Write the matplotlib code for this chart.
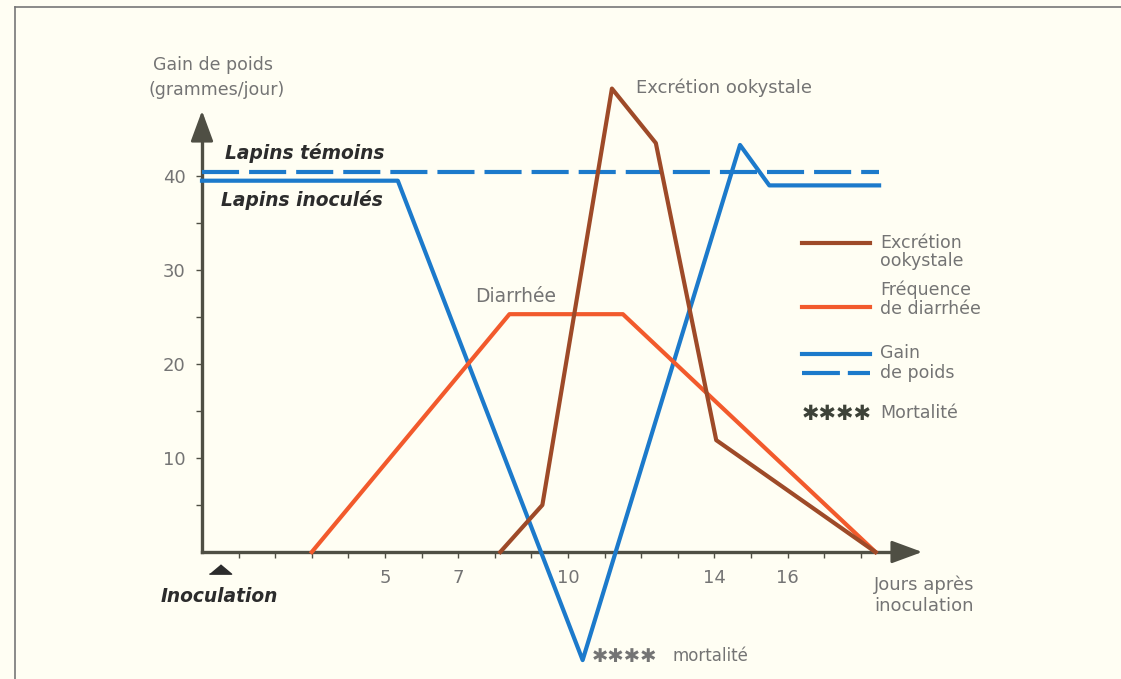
import numpy as np
import matplotlib
matplotlib.use("Agg")
import matplotlib.pyplot as plt
from matplotlib.lines import Line2D

# Data (days after inoculation, grams/day)
jours_inocules = [0, 5.35, 10.4, 14.7, 15.5, 18.5]
gain_inocules = [39.5, 39.5, -11.5, 43.3, 39.0, 39.0]

jours_temoins = [0, 18.5]
gain_temoins = [40.4, 40.4]

jours_excretion = [8.15, 9.3, 11.2, 12.4, 14.05, 18.4]
excretion = [0, 5.0, 49.3, 43.5, 11.9, 0]

jours_diarrhee = [3.0, 8.4, 11.5, 18.4]
diarrhee = [0, 25.3, 25.3, 0]

xticks = [5, 7, 10, 14, 16]
yticks = [10, 20, 30, 40]
jour_inoculation = 0.5

BLUE = "#1c7acb"
BROWN = "#9e4a28"
ORANGE = "#f25a2c"
AXIS = "#4f4f44"
GREY = "#747474"
DARK = "#2c2c2c"
BG = "#fffef3"

plt.rcParams["font.family"] = ["DejaVu Sans"]

# pixel -> data helpers (the axes covers the whole figure)
X0, SX = 202, 36.6
Y0, SY = 552, 9.4
def dx(px):
    return (px - X0) / SX
def dy(px):
    return (Y0 - px) / SY

fig = plt.figure(figsize=(11.21, 6.79), dpi=100, facecolor=BG)
ax = fig.add_axes([0, 0, 1, 1], facecolor=BG)
ax.set_xlim(dx(0), dx(1121))
ax.set_ylim(dy(679), dy(0))

# axes drawn through the origin
for side in ("top", "right"):
    ax.spines[side].set_visible(False)
ax.spines["bottom"].set_position(("data", 0))
ax.spines["left"].set_position(("data", 0))
ax.spines["bottom"].set_bounds(0, 19.2)
ax.spines["left"].set_bounds(0, 46.2)
for side in ("bottom", "left"):
    ax.spines[side].set_color(AXIS)
    ax.spines[side].set_linewidth(2.4)
    ax.spines[side].set_zorder(1)

head = "-|>,head_length=1.9,head_width=0.7"
ax.annotate("", xy=(dx(925), 0), xytext=(dx(890), 0),
            arrowprops=dict(arrowstyle=head, mutation_scale=10, color=AXIS, lw=2.0))
ax.annotate("", xy=(0, dy(108)), xytext=(0, dy(143)),
            arrowprops=dict(arrowstyle=head, mutation_scale=10, color=AXIS, lw=2.0))

ax.set_xticks(xticks)
ax.set_xticks(np.arange(1, 19), minor=True)
ax.set_yticks(yticks)
ax.set_yticks(np.arange(5, 46, 5), minor=True)
ax.tick_params(which="both", direction="out", length=4, width=1, color=AXIS)
ax.tick_params(axis="x", which="major", pad=8, labelsize=13, labelcolor=GREY)
ax.tick_params(axis="y", which="major", pad=8, labelsize=13, labelcolor=GREY)

# curves
ax.plot(jours_temoins, gain_temoins, color=BLUE, lw=3.0, dashes=(8.9, 2.4),
        solid_capstyle="butt", zorder=3)
ax.plot(jours_inocules, gain_inocules, color=BLUE, lw=3.0, zorder=3)
ax.plot(jours_diarrhee, diarrhee, color=ORANGE, lw=3.0, zorder=4)
ax.plot(jours_excretion, excretion, color=BROWN, lw=3.0, zorder=5)

# annotations
ax.text(dx(153), dy(65), "Gain de poids", color=GREY, fontsize=12.5, ha="left", va="center")
ax.text(dx(148), dy(90), "(grammes/jour)", color=GREY, fontsize=12.5, ha="left", va="center")
bold = dict(color=DARK, fontsize=13.4, fontweight="bold", fontstyle="italic",
            ha="left", va="center")
ax.text(dx(225), dy(153), "Lapins témoins", **bold)
ax.text(dx(221), dy(200), "Lapins inoculés", **bold)
ax.plot([jour_inoculation], [dy(569)], marker=[(-1, -0.42), (1, -0.42), (0, 0.42)],
        markersize=16, color=DARK, clip_on=False)
ax.text(dx(161), dy(597), "Inoculation", **bold)
ax.text(dx(516), dy(296), "Diarrhée", color=GREY, fontsize=13.5, ha="center", va="center")
ax.text(dx(636), dy(88), "Excrétion ookystale", color=GREY, fontsize=13,
        ha="left", va="center")
ax.text(dx(592), dy(657), "✱✱✱✱", color=GREY, fontsize=14, ha="left", va="center")
ax.text(dx(672), dy(656), "mortalité", color=GREY, fontsize=12, ha="left", va="center")
ax.text(dx(924), dy(585), "Jours après", color=GREY, fontsize=13, ha="center", va="center")
ax.text(dx(924), dy(606), "inoculation", color=GREY, fontsize=13, ha="center", va="center")

# hand-drawn legend on the right
lx0, lx1 = dx(802), dx(870)
ax.plot([lx0, lx1], [dy(243)] * 2, color=BROWN, lw=3.0)
ax.plot([lx0, lx1], [dy(307)] * 2, color=ORANGE, lw=3.0)
ax.plot([lx0, lx1], [dy(354)] * 2, color=BLUE, lw=3.0)
ax.plot([lx0, lx1], [dy(373)] * 2, color=BLUE, lw=3.0, dashes=(9.1, 1.9),
        solid_capstyle="butt")
leg = dict(color=GREY, fontsize=12.5, ha="left", va="center")
tx = dx(880)
ax.text(tx, dy(243), "Excrétion", **leg)
ax.text(tx, dy(261), "ookystale", **leg)
ax.text(tx, dy(290), "Fréquence", **leg)
ax.text(tx, dy(309), "de diarrhée", **leg)
ax.text(tx, dy(353), "Gain", **leg)
ax.text(tx, dy(373), "de poids", **leg)
ax.text(lx0, dy(414), "✱✱✱✱", color="#3d4238", fontsize=15, ha="left", va="center")
ax.text(tx, dy(413), "Mortalité", **leg)

# scanned page frame
fig.add_artist(Line2D([15 / 1121, 1], [1 - 7 / 679] * 2, color="#777", lw=1.2))
fig.add_artist(Line2D([15 / 1121] * 2, [0, 1 - 7 / 679], color="#777", lw=1.2))

fig.savefig("out.png", dpi=100, facecolor=BG)
